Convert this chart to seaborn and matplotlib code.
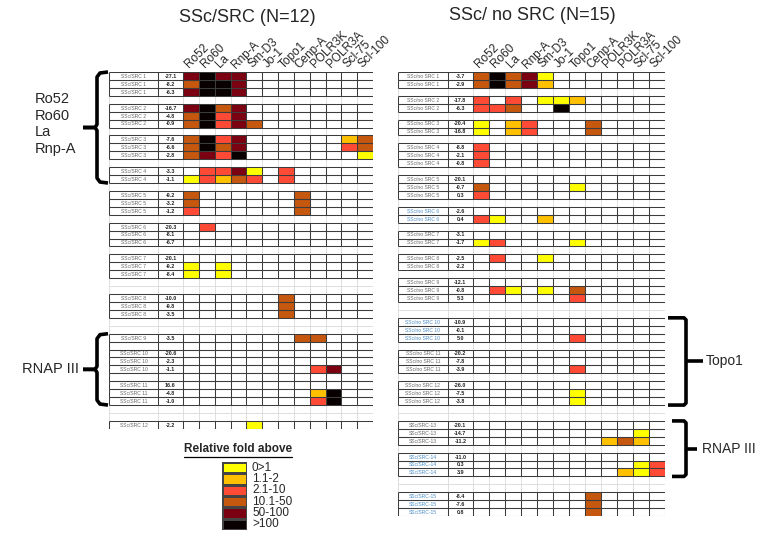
import numpy as np
import matplotlib
matplotlib.use("Agg")
import matplotlib.pyplot as plt
import seaborn as sns
from matplotlib.colors import ListedColormap
from matplotlib.lines import Line2D

sns.set_style("white")
plt.rcParams['font.family'] = ['Liberation Sans', 'DejaVu Sans']

##########################################################################
# data
##########################################################################

antigens = ["Ro52", "Ro60", "La", "Rnp-A", "Sm-D3", "Jo-1", "Topo1",
            "Cenp-A", "POLR3K", "POLR3A", "Scl-75", "Scl-100"]

# fold levels (0 = below cut-off, 1..6 = legend classes)
level_names = ["0>1", "1.1-2", "2.1-10", "10.1-50", "50-100", ">100"]
level_colors = ["#ffff00", "#ffc000", "#ff4b36", "#c5570f", "#7a0012", "#080000"]

# SSc with renal crisis; None = empty boxed row
src_groups = ["SSc/SRC 1", "SSc/SRC 2", "SSc/SRC 3", "SSc/SRC 4", "SSc/SRC 5",
              "SSc/SRC 6", "SSc/SRC 7", "SSc/SRC 8", "SSc/SRC 9", "SSc/SRC 10",
              "SSc/SRC 11", "SSc/SRC 12"]
src_values = [[-27.1, -8.2, -6.3], [-16.7, -4.8, -0.9], [-7.6, -6.6, -2.8],
              [-3.3, -1.1], [-9.2, -3.2, -1.2], [-20.3, -8.1, -6.7],
              [-20.1, -9.2, -8.4], [-10.0, -9.8, -3.5], [-3.5, None],
              [-20.6, -2.3, -1.1, None], [16.6, -4.8, -1.0], [-2.2]]
src_cells = [["565500000000", "466500000000", "566500000000"],
             ["564500000000", "463500000000", "463540000000"],
             ["463500000024", "464500000034", "453600000001"],
             ["033510300000", "132430300000"],
             ["400000040000", "400000040000", "300000040000"],
             ["030000000000", "000000000000", "000000000000"],
             ["000000000000", "101000000000", "101000000000"],
             ["000000400000", "000000400000", "000000400000"],
             ["000000044000", "000000000000"],
             ["000000000000", "000000000000", "000000003500", "000000000000"],
             ["000000000000", "000000002600", "000000003600"],
             ["000010000000"]]
src_gap_after = [1, 1, 1, 1, 1, 1, 2, 2, 0, 0, 2, 0]

# SSc without renal crisis
nosrc_groups = ["SSc/no SRC 1", "SSc/no SRC 2", "SSc/no SRC 3", "SSc/no SRC 4",
                "SSc/no SRC 5", "SSc/no SRC 6", "SSc/no SRC 7", "SSc/no SRC 8",
                "SSc/no SRC 9", "SSc/no SRC 10", "SSc/no SRC 11", "SSc/no SRC 12",
                "SSc/SRC-13", "SSc/SRC-14", "SSc/SRC-15"]
nosrc_values = [[-3.7, -2.9], [-17.8, -6.3], [-20.4, -16.8], [-8.8, -2.1, -0.8],
                [-20.1, -0.7, 0.3], [-2.6, 0.4], [-3.1, -1.7], [-2.5, -2.2],
                [-12.1, -0.8, 5.3], [-10.9, -0.1, 5.0], [-20.2, -7.8, -3.9],
                [-26.0, -7.5, -3.8], [-20.1, -14.7, -11.2], [-11.0, 0.3, 3.9],
                [-8.4, -7.6, 0.8]]
nosrc_cells = [["464510000000", "464520000000"],
               ["303011200000", "334006000000"],
               ["102300040000", "102300040000"],
               ["300000000000", "300000000000", "300000000000"],
               ["000000000000", "400000100000", "300000000000"],
               ["000000000000", "310020000000"],
               ["000000000000", "130000100000"],
               ["030010000000", "000000000000"],
               ["000000000000", "031010400000", "000000300000"],
               ["000000000000", "000000000000", "000000300000"],
               ["000000000000", "000000000000", "000000300000"],
               ["000000000000", "000000100000", "000000100000"],
               ["000000000000", "000000000010", "000000002420"],
               ["000000000000", "000000000013", "000000000213"],
               ["000000040000", "000000040000", "000000040000"]]
nosrc_gap_after = [1, 1, 1, 1, 1, 1, 1, 1, 2, 1, 1, 2, 1, 2, 0]
nosrc_blue = ["SSc/no SRC 6", "SSc/no SRC 10", "SSc/SRC-14", "SSc/SRC-15"]

##########################################################################
# helpers
##########################################################################

W, H = 763, 540
TOP = 72          # px, top of both tables
ROW_H = 7.93      # px per spreadsheet row
LAB_W, VAL_W = 3.1, 1.58   # label / value columns in cell units
GRID = "#3c3c3c"
LIGHT = "#d9d9d9"


def build_rows(groups, values, cells, gaps):
    codes, labels, vals, kinds, spans = [], [], [], [], {}
    for g, vs, cs, gap in zip(groups, values, cells, gaps):
        start = len(codes)
        for v, c in zip(vs, cs):
            codes.append([int(ch) for ch in c])
            labels.append(g if v is not None else "")
            vals.append(v)
            kinds.append("row")
        spans[g] = (start, len(codes))
        for _ in range(gap):
            codes.append([np.nan] * len(antigens))
            labels.append("")
            vals.append(None)
            kinds.append("gap")
    return np.array(codes, dtype=float), labels, vals, kinds, spans


def row_px(i):
    return TOP + i * ROW_H


def fig_line(xs, ys, lw=2.6):
    fig.add_artist(Line2D([x / W for x in xs], [1 - y / H for y in ys],
                          color="black", lw=lw, solid_joinstyle="round",
                          solid_capstyle="butt"))


def draw_panel(cells_left, cells_right, rows, blue=()):
    codes, labels, vals, kinds, spans = rows
    n = len(kinds)
    ncol = len(antigens)
    cell_w = (cells_right - cells_left) / ncol
    ax_left = cells_left - (LAB_W + VAL_W) * cell_w
    ax = fig.add_axes([ax_left / W, 1 - row_px(n) / H,
                       (cells_right - ax_left) / W, n * ROW_H / H])
    cmap = ListedColormap(["white"] + level_colors)
    cmap.set_bad((1, 1, 1, 0))
    sns.heatmap(codes, mask=np.isnan(codes), cmap=cmap, vmin=-0.5, vmax=6.5,
                cbar=False, linewidths=0, ax=ax,
                xticklabels=antigens, yticklabels=False)
    x0 = -(LAB_W + VAL_W)
    ax.set_xlim(x0, ncol)
    ax.set_ylim(n, 0)
    xs_all = [x0, -VAL_W] + list(range(ncol + 1))
    for i, kind in enumerate(kinds):
        if kind == "gap":
            ax.vlines(xs_all, i, i + 1, color=LIGHT, lw=0.6, zorder=0)
            ax.hlines(i, x0, ncol, color=LIGHT, lw=0.6, zorder=0)
            continue
        ax.vlines(xs_all, i, i + 1, color=GRID, lw=0.75, zorder=3)
        ax.hlines([i, i + 1], x0, ncol, color=GRID, lw=0.75, zorder=3)
        if labels[i]:
            col = "#4a8cc4" if labels[i] in blue else "#666666"
            ax.text(x0 + LAB_W / 2, i + 0.55, labels[i], ha="center", va="center",
                    fontsize=3.6, color=col)
        if vals[i] is not None:
            ax.text(-VAL_W / 2, i + 0.55, f"{vals[i]:.1f}", ha="center",
                    va="center", fontsize=3.9, weight="bold", color="#222222")
    ax.tick_params(axis="x", top=True, labeltop=True, bottom=False,
                   labelbottom=False, length=0, pad=1)
    plt.setp(ax.get_xticklabels(), rotation=45, ha="left", va="bottom",
             rotation_mode="anchor", fontsize=8.5)
    return ax, spans


##########################################################################
# figure
##########################################################################

fig = plt.figure(figsize=(W / 100, H / 100), dpi=100)

src_rows = build_rows(src_groups, src_values, src_cells, src_gap_after)
nosrc_rows = build_rows(nosrc_groups, nosrc_values, nosrc_cells, nosrc_gap_after)

ax_l, src_spans = draw_panel(183, 373, src_rows)
ax_r, nosrc_spans = draw_panel(473, 665, nosrc_rows, blue=nosrc_blue)

fig.text(247 / W, 1 - 17 / H, "SSc/SRC (N=12)", ha="center", va="center", fontsize=13)
fig.text(532 / W, 1 - 16 / H, "SSc/ no SRC (N=15)", ha="center", va="center", fontsize=13)


def left_brace(y0, y1, label, label_x, label_y):
    ym = (y0 + y1) / 2
    fig_line([108, 100, 97, 97, 95, 83], [y0, y0 + 1, y0 + 5, ym - 3, ym, ym])
    fig_line([108, 100, 97, 97, 95, 83], [y1, y1 - 1, y1 - 5, ym + 3, ym, ym])
    fig.text(label_x / W, 1 - label_y / H, label, ha="left", va="center",
             fontsize=10.5, linespacing=1.25)


def right_bracket(x_tip, x_v, x_mid, y0, y1, label, label_x):
    ym = (y0 + y1) / 2
    fig_line([x_tip, x_v - 2, x_v, x_v, x_v - 2, x_tip],
             [y0, y0, y0 + 2, y1 - 2, y1, y1])
    fig_line([x_v, x_mid], [ym, ym])
    fig.text(label_x / W, 1 - ym / H, label, ha="left", va="center", fontsize=10)


s = src_spans
left_brace(row_px(s["SSc/SRC 1"][0]), row_px(s["SSc/SRC 4"][1]),
           "Ro52\nRo60\nLa\nRnp-A", 35, 124)
left_brace(row_px(s["SSc/SRC 9"][0]), row_px(s["SSc/SRC 11"][1]),
           "RNAP III", 22, (row_px(s["SSc/SRC 9"][0]) + row_px(s["SSc/SRC 11"][1])) / 2)

r = nosrc_spans
right_bracket(668, 686, 703, row_px(r["SSc/no SRC 10"][0]), row_px(r["SSc/no SRC 12"][1]),
              "Topo1", 706)
right_bracket(672, 686, 697, row_px(r["SSc/SRC-13"][0]), row_px(r["SSc/SRC-14"][1]),
              "RNAP III", 702)

# legend
title = fig.text(238 / W, 1 - 449 / H, "Relative fold above", ha="center",
                 va="center", fontsize=8.5, weight="bold")
fig.canvas.draw()
bb = title.get_window_extent().transformed(fig.transFigure.inverted())
fig.add_artist(Line2D([bb.x0, bb.x1], [bb.y0 - 0.004, bb.y0 - 0.004],
                      color="black", lw=0.9))

ax_leg = fig.add_axes([222 / W, 1 - 530 / H, 25 / W, 68 / H])
sns.heatmap(np.arange(1, 7).reshape(6, 1), cmap=ListedColormap(level_colors),
            vmin=0.5, vmax=6.5, cbar=False, linewidths=0.8, linecolor="#444444",
            xticklabels=False, yticklabels=False, ax=ax_leg)
for i, name in enumerate(level_names):
    ax_leg.text(1.2, i + 0.5, name, ha="left", va="center", fontsize=8.5,
                clip_on=False)

fig.savefig("out.png", dpi=100)
